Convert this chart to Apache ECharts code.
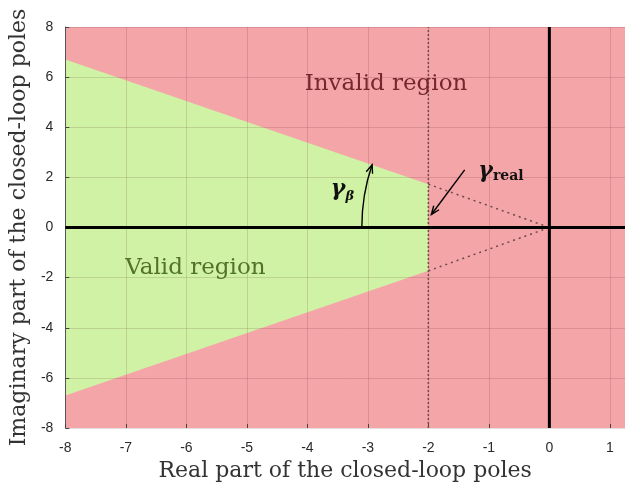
<!DOCTYPE html>
<html>
<head>
<meta charset="utf-8">
<script src="https://cdn.jsdelivr.net/npm/echarts@6/dist/echarts.min.js"></script>
<style>
  html, body { margin: 0; padding: 0; background: #fff; }
  #chart { width: 625px; height: 491px; }
</style>
</head>
<body>
<div id="chart"></div>
<script>
// Axis ranges
const xRange = [-8, 1.25];
const yRange = [-8, 8];

// Valid (stable, well-damped) region polygon vertices
const validX = [-8, -2, -2, -8];
const validY = [6.7, 1.73, -1.73, -6.7];

// Dotted guide lines from the region corners to the origin
const guideUpper = [[-2, 1.73], [0, 0]];
const guideLower = [[-2, -1.73], [0, 0]];
const guideVertical = [[-2, -8], [-2, 8]];

// Angle arrow (gamma_beta): start, control, end
const betaArrow = [[-3.1, 0], [-3.1, 1.3], [-2.93, 2.5]];
// Pointer arrow (gamma_real): start, end
const realArrow = [[-1.4, 2.3], [-1.95, 0.52]];

// Region labels
const regionLabels = [
  { text: 'Invalid region', x: -2.7, y: 5.72, color: '#74282c' },
  { text: 'Valid region', x: -5.85, y: -1.6, color: '#52722b' }
];

const RED = '#f4a5a8';
const GREEN = '#cff2a4';
const SERIF = '"DejaVu Serif", "Liberation Serif", serif';

function arrowHead(tip, from, len, spread) {
  const ang = Math.atan2(tip[1] - from[1], tip[0] - from[0]);
  const a1 = ang + Math.PI - spread, a2 = ang + Math.PI + spread;
  return [
    [tip[0] + len * Math.cos(a1), tip[1] + len * Math.sin(a1)],
    tip,
    [tip[0] + len * Math.cos(a2), tip[1] + len * Math.sin(a2)]
  ];
}

const chart = echarts.init(document.getElementById('chart'), null, { renderer: 'canvas' });

const axisCommon = {
  type: 'value',
  z: 5,
  axisLine: { show: true, onZero: false, lineStyle: { color: '#555', width: 1 } },
  axisTick: { show: true, inside: true, length: 4, lineStyle: { color: '#444' } },
  splitLine: { show: true, lineStyle: { color: 'rgba(60,0,0,0.13)', width: 1 } },
  axisLabel: { color: '#2a2a2a', fontSize: 14, fontFamily: '"Liberation Sans", Arial, sans-serif' },
  nameLocation: 'middle',
  nameTextStyle: { fontFamily: SERIF, fontSize: 22, color: '#333' }
};

chart.setOption({
  animation: false,
  grid: {
    left: 64, right: 0, top: 27, bottom: 63,
    show: true, backgroundColor: RED, borderWidth: 0
  },
  xAxis: Object.assign({}, axisCommon, {
    min: xRange[0], max: xRange[1], interval: 1,
    name: 'Real part of the closed-loop poles',
    nameGap: 27,
    axisLine: { show: false, onZero: false },
    axisLabel: Object.assign({}, axisCommon.axisLabel, { showMaxLabel: false, margin: 13 })
  }),
  yAxis: Object.assign({}, axisCommon, {
    min: yRange[0], max: yRange[1], interval: 2,
    name: 'Imaginary part of the closed-loop poles',
    nameGap: 30,
    nameTextStyle: Object.assign({}, axisCommon.nameTextStyle, { padding: [0, 0, 0, 0] }),
    axisLabel: Object.assign({}, axisCommon.axisLabel, { margin: 12 })
  }),
  series: [
    {
      // Valid region fill
      type: 'custom',
      z: 1,
      silent: true,
      data: [0],
      renderItem: function (params, api) {
        const pts = validX.map((x, i) => api.coord([x, validY[i]]));
        return { type: 'polygon', shape: { points: pts }, style: { fill: GREEN } };
      }
    },
    {
      // Dotted guides
      type: 'line', z: 6, silent: true, symbol: 'none',
      data: guideUpper,
      lineStyle: { color: '#6a4a4a', width: 1.5, type: [2, 4] }
    },
    {
      type: 'line', z: 6, silent: true, symbol: 'none',
      data: guideLower,
      lineStyle: { color: '#6a4a4a', width: 1.5, type: [2, 4] }
    },
    {
      type: 'line', z: 6, silent: true, symbol: 'none',
      data: guideVertical,
      lineStyle: { color: '#6e5050', width: 1.5, type: [2, 2] }
    },
    {
      // Real and imaginary axes through the origin
      type: 'line', z: 7, silent: true, symbol: 'none',
      data: [[xRange[0], 0], [xRange[1], 0]],
      lineStyle: { color: '#000', width: 3 }
    },
    {
      type: 'line', z: 7, silent: true, symbol: 'none',
      data: [[0, yRange[0]], [0, yRange[1]]],
      lineStyle: { color: '#000', width: 3 }
    },
    {
      // Annotations: arrows and labels
      type: 'custom', z: 8, silent: true,
      data: [0],
      renderItem: function (params, api) {
        const b = betaArrow.map(p => api.coord(p));
        const r = realArrow.map(p => api.coord(p));
        const children = [
          {
            type: 'bezierCurve',
            shape: { x1: b[0][0], y1: b[0][1], cpx1: b[1][0], cpy1: b[1][1], x2: b[2][0], y2: b[2][1] },
            style: { stroke: '#000', lineWidth: 1.4, fill: null }
          },
          {
            type: 'polyline',
            shape: { points: arrowHead(b[2], b[1], 9, 0.38) },
            style: { stroke: '#000', lineWidth: 1.4, fill: null }
          },
          {
            type: 'line',
            shape: { x1: r[0][0], y1: r[0][1], x2: r[1][0], y2: r[1][1] },
            style: { stroke: '#000', lineWidth: 1.4 }
          },
          {
            type: 'polyline',
            shape: { points: arrowHead(r[1], r[0], 9, 0.38) },
            style: { stroke: '#000', lineWidth: 1.4, fill: null }
          }
        ];
        const gb = api.coord([-3.42, 1.45]);
        children.push({
          type: 'text', x: gb[0], y: gb[1],
          style: {
            text: '{g|γ}{s|β}',
            align: 'center', verticalAlign: 'middle',
            rich: {
              g: { fontFamily: SERIF, fontSize: 22, fontStyle: 'italic', fontWeight: 'bold', fill: '#111', padding: [0, 0, 4, 0] },
              s: { fontFamily: SERIF, fontSize: 13, fontStyle: 'italic', fontWeight: 'bold', fill: '#111', padding: [10, 0, 0, 0] }
            }
          }
        });
        const gr = api.coord([-0.8, 2.15]);
        children.push({
          type: 'text', x: gr[0], y: gr[1],
          style: {
            text: '{g|γ}{s|real}',
            align: 'center', verticalAlign: 'middle',
            rich: {
              g: { fontFamily: SERIF, fontSize: 22, fontStyle: 'italic', fontWeight: 'bold', fill: '#111', padding: [0, 0, 4, 0] },
              s: { fontFamily: SERIF, fontSize: 14, fontWeight: 'bold', fill: '#111', padding: [6, 0, 0, 0] }
            }
          }
        });
        regionLabels.forEach(l => {
          const p = api.coord([l.x, l.y]);
          children.push({
            type: 'text', x: p[0], y: p[1],
            style: {
              text: l.text, fill: l.color, fontFamily: SERIF, fontSize: 23,
              align: 'center', verticalAlign: 'middle'
            }
          });
        });
        return { type: 'group', children: children };
      }
    }
  ]
});
</script>
</body>
</html>
